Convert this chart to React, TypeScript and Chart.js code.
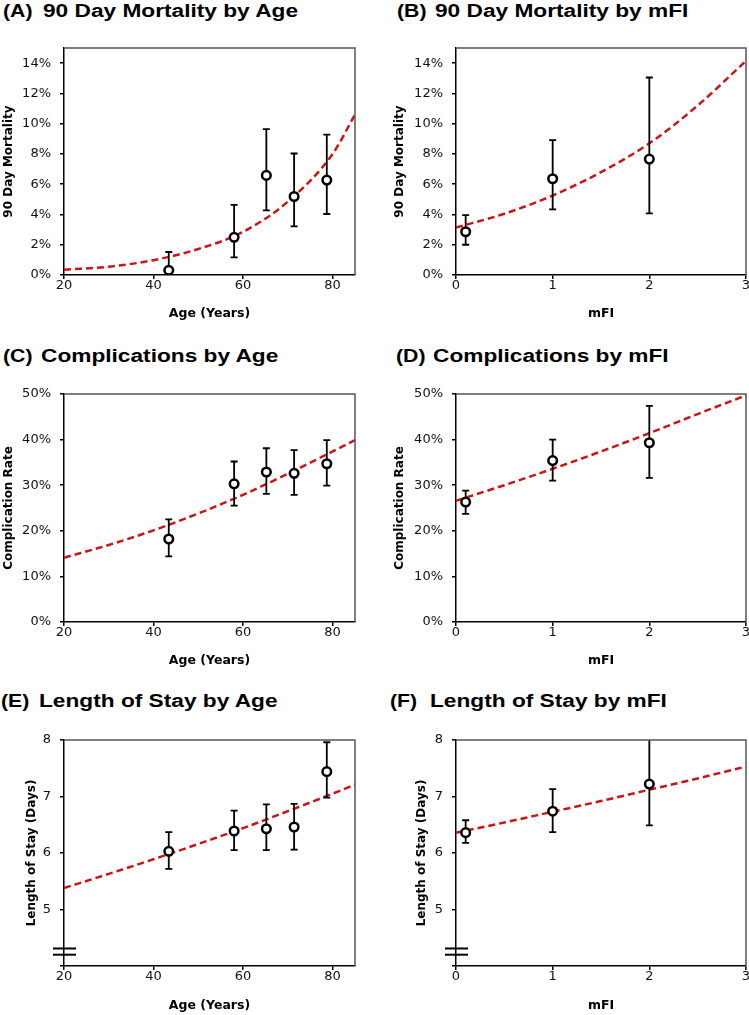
import React, { useEffect, useRef } from 'react';
import { Chart, registerables } from 'chart.js';

Chart.register(...registerables);

// ---------- data ----------
const ageGroups = [43.4, 58.0, 65.2, 71.4, 78.7];
const mfiGroups = [0.1, 1, 2];

const mortAge = [0.31, 2.49, 6.58, 5.19, 6.27];
const mortAgeLow = [0.0, 1.17, 4.27, 3.21, 4.03];
const mortAgeHigh = [1.52, 4.64, 9.64, 8.03, 9.27];

const mortMfi = [2.86, 6.36, 7.66];
const mortMfiLow = [2.0, 4.34, 4.07];
const mortMfiHigh = [3.96, 8.91, 13.05];

const compAge = [18.2, 30.3, 32.9, 32.6, 34.7];
const compAgeLow = [14.4, 25.5, 28.1, 27.9, 29.9];
const compAgeHigh = [22.5, 35.2, 38.1, 37.7, 39.9];

const compMfi = [26.3, 35.4, 39.3];
const compMfiLow = [23.7, 31.0, 31.6];
const compMfiHigh = [28.8, 40.0, 47.4];

const losAge = [6.03, 6.39, 6.43, 6.46, 7.44];
const losAgeLow = [5.72, 6.05, 6.05, 6.06, 6.98];
const losAgeHigh = [6.37, 6.75, 6.86, 6.87, 7.96];

const losMfi = [6.36, 6.74, 7.22];
const losMfiLow = [6.18, 6.37, 6.49];
const losMfiHigh = [6.58, 7.13, 8.05];

// fitted curves
const fitAgeX = [20, 30, 40, 50, 60, 70, 80, 85];
const fitMortAge = [0.35, 0.55, 0.98, 1.72, 2.85, 4.85, 8.0, 10.6];
const fitCompAge = [14.1, 16.9, 20.1, 23.8, 27.9, 32.5, 37.4, 39.9];
const fitLosAge = [5.38, 5.63, 5.89, 6.16, 6.44, 6.74, 7.05, 7.21];

const fitMfiX = [0, 0.5, 1, 1.5, 2, 2.5, 3];
const fitMortMfi = [3.13, 4.05, 5.25, 6.8, 8.7, 11.2, 14.15];
const fitCompMfi = [26.6, 30.0, 33.6, 37.4, 41.4, 45.6, 49.7];
const fitLosMfi = [6.36, 6.54, 6.73, 6.92, 7.12, 7.32, 7.53];

const titles = [
  { tag: '(A)', text: '90 Day Mortality by Age' },
  { tag: '(B)', text: '90 Day Mortality by mFI' },
  { tag: '(C)', text: 'Complications by Age' },
  { tag: '(D)', text: 'Complications by mFI' },
  { tag: '(E)', text: 'Length of Stay by Age' },
  { tag: '(F)', text: 'Length of Stay by mFI' },
];

const FONT = "'DejaVu Sans', sans-serif";
const RED = '#CC1414';

type PanelCfg = {
  x: number; y: number; w: number; h: number;
  area: { l: number; t: number; r: number; b: number };
  yTitleC: number; xTitleC: number;
  xs: number[]; ys: number[]; lo: number[]; hi: number[];
  fx: number[]; fy: number[];
  xMin: number; xMax: number; xStep: number;
  yMin: number; yMax: number; yStep: number;
  pct: boolean; brk: boolean;
  xTitle: string; yTitle: string;
};

const L = { x: 0, w: 375, l: 64, r: 355 };
const R = { x: 375, w: 385, l: 456, r: 746 };
const ROW = [
  { y: 30, h: 300, t: 48, b: 275, xTitleC: 314 },
  { y: 375, h: 300, t: 394, b: 622, xTitleC: 660.5 },
  { y: 720, h: 295, t: 740, b: 966, xTitleC: 1006 },
];

function mk(col: any, row: any, yTitleC: number, rest: any): PanelCfg {
  return {
    x: col.x, y: row.y, w: col.w, h: row.h,
    area: { l: col.l, t: row.t, r: col.r, b: row.b },
    yTitleC, xTitleC: row.xTitleC,
    ...rest,
  };
}

const ageAxis = { xMin: 20, xMax: 85, xStep: 20, xTitle: 'Age (Years)' };
const mfiAxis = { xMin: 0, xMax: 3, xStep: 1, xTitle: 'mFI' };
const mortAxis = { yMin: 0, yMax: 15, yStep: 2, pct: true, brk: false, yTitle: '90 Day Mortality' };
const compAxis = { yMin: 0, yMax: 50, yStep: 10, pct: true, brk: false, yTitle: 'Complication Rate' };
const losAxis = { yMin: 4, yMax: 8, yStep: 1, pct: false, brk: true, yTitle: 'Length of Stay (Days)' };

const panels: PanelCfg[] = [
  mk(L, ROW[0], 9, { ...ageAxis, ...mortAxis, xs: ageGroups, ys: mortAge, lo: mortAgeLow, hi: mortAgeHigh, fx: fitAgeX, fy: fitMortAge }),
  mk(R, ROW[0], 400, { ...mfiAxis, ...mortAxis, xs: mfiGroups, ys: mortMfi, lo: mortMfiLow, hi: mortMfiHigh, fx: fitMfiX, fy: fitMortMfi }),
  mk(L, ROW[1], 9, { ...ageAxis, ...compAxis, xs: ageGroups, ys: compAge, lo: compAgeLow, hi: compAgeHigh, fx: fitAgeX, fy: fitCompAge }),
  mk(R, ROW[1], 400, { ...mfiAxis, ...compAxis, xs: mfiGroups, ys: compMfi, lo: compMfiLow, hi: compMfiHigh, fx: fitMfiX, fy: fitCompMfi }),
  mk(L, ROW[2], 32, { ...ageAxis, ...losAxis, xs: ageGroups, ys: losAge, lo: losAgeLow, hi: losAgeHigh, fx: fitAgeX, fy: fitLosAge }),
  mk(R, ROW[2], 422, { ...mfiAxis, ...losAxis, xs: mfiGroups, ys: losMfi, lo: losMfiLow, hi: losMfiHigh, fx: fitMfiX, fy: fitLosMfi }),
];

const titlePos = [
  { tagX: 3, textX: 43, top: 2 },
  { tagX: 397, textX: 435, top: 2 },
  { tagX: 3, textX: 41, top: 347 },
  { tagX: 396, textX: 433, top: 347 },
  { tagX: 1, textX: 39, top: 692 },
  { tagX: 390, textX: 430, top: 692 },
];

function Panel({ cfg }: { cfg: PanelCfg }) {
  const ref = useRef<HTMLCanvasElement | null>(null);
  useEffect(() => {
    const c = cfg;
    const yBoxLeft = c.yTitleC - 7.2;
    const padLeft = yBoxLeft - c.x;
    const yWidth = c.area.l - yBoxLeft;
    const padTop = c.area.t - c.y;
    const padRight = c.x + c.w - c.area.r;
    const padBottom = c.y + c.h - (c.xTitleC + 7.2);
    const xHeight = c.xTitleC + 7.2 - c.area.b;

    const errPlugin = {
      id: 'errbars',
      beforeDatasetDraw(chart: any, args: any) {
        if (args.index !== 0) return;
        const ctx = chart.ctx;
        const xs = chart.scales.x;
        const ys = chart.scales.y;
        const ca = chart.chartArea;
        ctx.save();
        ctx.beginPath();
        ctx.rect(ca.left, ca.top, ca.right - ca.left, ca.bottom - ca.top);
        ctx.clip();
        ctx.strokeStyle = '#000';
        ctx.lineWidth = 1.8;
        for (let i = 0; i < c.xs.length; i++) {
          const px = xs.getPixelForValue(c.xs[i]);
          const pl = ys.getPixelForValue(c.lo[i]);
          const ph = ys.getPixelForValue(c.hi[i]);
          ctx.beginPath();
          ctx.moveTo(px, pl);
          ctx.lineTo(px, ph);
          ctx.moveTo(px - 3.5, pl);
          ctx.lineTo(px + 3.5, pl);
          ctx.moveTo(px - 3.5, ph);
          ctx.lineTo(px + 3.5, ph);
          ctx.stroke();
        }
        ctx.restore();
      },
      afterDraw(chart: any) {
        const ctx = chart.ctx;
        const ca = chart.chartArea;
        ctx.save();
        ctx.strokeStyle = '#555';
        ctx.lineWidth = 1.5;
        ctx.beginPath();
        ctx.moveTo(ca.left, ca.top);
        ctx.lineTo(ca.right, ca.top);
        ctx.lineTo(ca.right, ca.bottom);
        ctx.stroke();
        if (c.brk) {
          const ys = chart.scales.y;
          ctx.strokeStyle = '#000';
          ctx.lineWidth = 2;
          [4.2, 4.31].forEach((v) => {
            const py = ys.getPixelForValue(v);
            ctx.beginPath();
            ctx.moveTo(ca.left - 11, py);
            ctx.lineTo(ca.left + 12, py);
            ctx.stroke();
          });
        }
        ctx.restore();
      },
    };

    const chart = new Chart(ref.current as HTMLCanvasElement, {
      type: 'scatter',
      data: {
        datasets: [
          {
            label: 'observed',
            data: c.xs.map((x, i) => ({ x, y: c.ys[i] })),
            pointRadius: 4.3,
            pointHoverRadius: 4.3,
            pointBorderWidth: 2.5,
            pointBackgroundColor: '#fff',
            pointBorderColor: '#000',
            showLine: false,
          } as any,
          {
            label: 'fit',
            data: c.fx.map((x, i) => ({ x, y: c.fy[i] })),
            showLine: true,
            borderColor: RED,
            borderWidth: 2.5,
            borderDash: [7, 4],
            pointRadius: 0,
            pointHoverRadius: 0,
            cubicInterpolationMode: 'monotone',
            fill: false,
          } as any,
        ],
      },
      options: {
        animation: false,
        responsive: false,
        events: [],
        layout: { padding: { left: padLeft, top: padTop, right: padRight, bottom: padBottom } },
        plugins: { legend: { display: false }, tooltip: { enabled: false }, title: { display: false } },
        scales: {
          x: {
            type: 'linear',
            min: c.xMin,
            max: c.xMax,
            afterFit: (s: any) => { s.height = xHeight; },
            ticks: {
              stepSize: c.xStep,
              includeBounds: false,
              padding: 0,
              color: '#111',
              maxRotation: 0,
              font: { family: FONT, size: 13, lineHeight: 1 },
            },
            grid: { drawOnChartArea: false, drawTicks: true, tickLength: 4, color: '#000', lineWidth: 1.5 },
            border: { display: true, color: '#000', width: 1.5 },
            title: {
              display: true,
              text: c.xTitle,
              color: '#000',
              padding: 0,
              font: { family: FONT, size: 12.5, weight: 'bold', lineHeight: 1.152 },
            },
          } as any,
          y: {
            type: 'linear',
            min: c.yMin,
            max: c.yMax,
            afterFit: (s: any) => { s.width = yWidth; },
            ticks: {
              stepSize: c.yStep,
              includeBounds: false,
              padding: 9,
              color: '#111',
              font: { family: FONT, size: 13, lineHeight: 1.2 },
              callback: (v: any) => {
                if (c.brk && v === c.yMin) return '';
                return c.pct ? v + '%' : String(v);
              },
            },
            grid: { drawOnChartArea: false, drawTicks: true, tickLength: 4, color: '#000', lineWidth: 1.5 },
            border: { display: true, color: '#000', width: 1.5 },
            title: {
              display: true,
              text: c.yTitle,
              color: '#000',
              padding: 0,
              font: { family: FONT, size: 12, weight: 'bold', lineHeight: 1.2 },
            },
          } as any,
        },
      },
      plugins: [errPlugin],
    });
    return () => chart.destroy();
  }, [cfg]);
  return (
    <canvas
      ref={ref}
      width={cfg.w}
      height={cfg.h}
      style={{ position: 'absolute', left: cfg.x, top: cfg.y, width: cfg.w, height: cfg.h }}
    />
  );
}

const titleStyle: React.CSSProperties = {
  position: 'absolute',
  fontFamily: "'Liberation Sans', Arial, sans-serif",
  fontWeight: 'bold',
  fontSize: 18,
  lineHeight: '18px',
  color: '#000',
  whiteSpace: 'nowrap',
  transform: 'scaleX(1.26)',
  transformOrigin: 'left top',
};

const tagStyle: React.CSSProperties = {
  ...titleStyle,
  transform: 'scaleX(1.18)',
};

export default function App() {
  return (
    <div style={{ position: 'absolute', left: 0, top: 0, width: 749, height: 1015, overflow: 'hidden', background: '#fff' }}>
      {panels.map((p, i) => (
        <Panel key={i} cfg={p} />
      ))}
      {titles.map((t, i) => (
        <React.Fragment key={'t' + i}>
          <div style={{ ...tagStyle, left: titlePos[i].tagX, top: titlePos[i].top }}>{t.tag}</div>
          <div style={{ ...titleStyle, left: titlePos[i].textX, top: titlePos[i].top }}>{t.text}</div>
        </React.Fragment>
      ))}
    </div>
  );
}
